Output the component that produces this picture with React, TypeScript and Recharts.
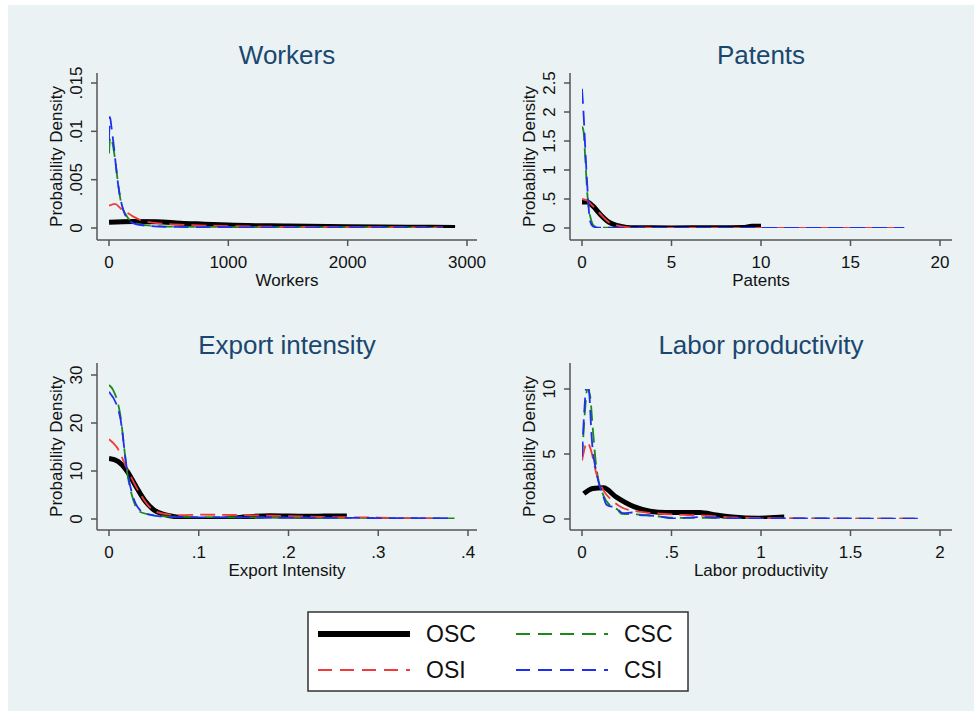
import React from "react"
import { LineChart, Line, XAxis, YAxis } from "recharts"

// Workers panel
const workersOscX = [0, 200, 400, 600, 800, 1000, 1500, 2000, 2500, 2900]
const workersOscY = [0.0006, 0.00068, 0.00065, 0.0005, 0.0004, 0.0003, 0.0002, 0.00012, 0.00008, 0.00005]
const workersCscX = [0, 10, 25, 50, 75, 100, 150, 200, 300, 500, 1000, 1500, 2000, 2500, 2800]
const workersCscY = [0.0077, 0.0094, 0.009, 0.0072, 0.0047, 0.0027, 0.0012, 0.0006, 0.0003, 0.00015, 0.0001, 0.00008, 0.00008, 0.00005, 0.00003]
const workersOsiX = [0, 50, 100, 150, 200, 250, 300, 400, 500, 700, 1000, 1500, 2000, 2500, 2800]
const workersOsiY = [0.0023, 0.0025, 0.002, 0.0016, 0.0012, 0.0009, 0.0007, 0.0005, 0.0004, 0.0003, 0.0002, 0.00012, 0.0001, 0.00007, 0.00005]
const workersCsiX = [0, 8, 20, 40, 60, 80, 100, 130, 160, 200, 300, 500, 1000, 1500, 2000, 2500, 2800]
const workersCsiY = [0.009, 0.0115, 0.0105, 0.0085, 0.0062, 0.0042, 0.0028, 0.0015, 0.0009, 0.0005, 0.00025, 0.00012, 0.00008, 0.00006, 0.00007, 0.00004, 0.00003]

// Patents panel
const patentsOscX = [0, 0.3, 0.6, 1, 1.5, 2, 2.5, 3, 5, 7, 9, 9.5, 10]
const patentsOscY = [0.45, 0.45, 0.38, 0.24, 0.1, 0.04, 0.01, 0.003, 0.002, 0.004, 0.01, 0.03, 0.03]
const patentsCscX = [0, 0.08, 0.2, 0.3, 0.5, 0.7, 1, 2, 5, 10, 15, 18]
const patentsCscY = [1.75, 1.68, 1.1, 0.58, 0.15, 0.03, 0.01, 0.004, 0.002, 0.002, 0.001, 0.001]
const patentsOsiX = [0, 0.3, 0.6, 1, 1.5, 2, 2.5, 3, 5, 10, 15, 18]
const patentsOsiY = [0.5, 0.47, 0.38, 0.25, 0.1, 0.04, 0.015, 0.006, 0.003, 0.003, 0.002, 0.001]
const patentsCsiX = [0, 0.1, 0.17, 0.3, 0.45, 0.6, 0.8, 1.2, 2, 5, 10, 15, 18]
const patentsCsiY = [2.4, 1.9, 1.45, 0.7, 0.12, 0.03, 0.01, 0.005, 0.003, 0.002, 0.002, 0.001, 0.001]

// Export intensity panel
const exportOscX = [0, 0.01, 0.02, 0.03, 0.04, 0.05, 0.06, 0.07, 0.085, 0.1, 0.115, 0.13, 0.15, 0.18, 0.2, 0.22, 0.24, 0.265]
const exportOscY = [12.6, 12.0, 10.0, 6.8, 3.8, 1.9, 1.0, 0.6, 0.2, -0.15, -0.2, 0, 0.4, 0.7, 0.6, 0.55, 0.6, 0.65]
const exportCscX = [0, 0.0045, 0.0123, 0.0204, 0.027, 0.0345, 0.049, 0.07, 0.1, 0.15, 0.2, 0.25, 0.3, 0.35, 0.385]
const exportCscY = [27.9, 26.9, 22, 9.5, 4, 1.5, 0.8, 0.5, 0.4, 0.35, 0.3, 0.25, 0.2, 0.15, 0.1]
const exportOsiX = [0, 0.0086, 0.02, 0.0345, 0.049, 0.064, 0.08, 0.1, 0.15, 0.2, 0.25, 0.3, 0.345, 0.36]
const exportOsiY = [16.6, 15, 10.5, 5.3, 1.9, 1.0, 0.8, 0.9, 0.8, 0.6, 0.4, 0.3, 0.1, 0.1]
const exportCsiX = [0, 0.0123, 0.02, 0.0315, 0.0427, 0.06, 0.1, 0.2, 0.3, 0.385]
const exportCsiY = [26.5, 21.3, 10.4, 2.6, 1.0, 0.5, 0.35, 0.3, 0.2, 0.15]

// Labor productivity panel
const laborOscX = [0.01, 0.06, 0.12, 0.19, 0.29, 0.38, 0.47, 0.66, 0.75, 0.84, 0.98, 1.05, 1.13]
const laborOscY = [1.95, 2.35, 2.4, 1.7, 0.95, 0.6, 0.5, 0.5, 0.3, 0.15, 0.05, 0.1, 0.15]
const laborCscX = [0, 0.015, 0.03, 0.045, 0.06, 0.08, 0.12, 0.16, 0.2, 0.22, 0.3, 0.4, 0.5, 0.7, 1, 1.3, 1.6, 1.88]
const laborCscY = [4.6, 8, 10, 9.5, 7, 4, 1.8, 1.0, 0.7, 0.4, 0.35, 0.25, 0.1, 0.08, 0.05, 0.04, 0.03, 0.02]
const laborOsiX = [0, 0.03, 0.05, 0.08, 0.12, 0.17, 0.22, 0.3, 0.4, 0.5, 0.6, 0.7, 0.85, 1, 1.2, 1.5, 1.88]
const laborOsiY = [4.5, 5.9, 5.3, 3.5, 2.2, 1.4, 0.9, 0.6, 0.45, 0.35, 0.3, 0.25, 0.12, 0.08, 0.04, 0.03, 0.02]
const laborCsiX = [0, 0.017, 0.03, 0.04, 0.054, 0.082, 0.12, 0.137, 0.19, 0.23, 0.285, 0.32, 0.4, 0.51, 0.66, 0.84, 1, 1.3, 1.6, 1.88]
const laborCsiY = [4.8, 9.2, 10.8, 9.8, 6.3, 3.5, 1.7, 1.1, 0.85, 0.45, 0.5, 0.3, 0.25, 0.05, 0.15, 0.05, 0.04, 0.05, 0.03, 0.02]

// ticks
const workersXTicks = [0, 1000, 2000, 3000]
const workersYTicks = [0, 0.005, 0.01, 0.015]
const patentsXTicks = [0, 5, 10, 15, 20]
const patentsYTicks = [0, 0.5, 1, 1.5, 2, 2.5]
const exportXTicks = [0, 0.1, 0.2, 0.3, 0.4]
const exportYTicks = [0, 10, 20, 30]
const laborXTicks = [0, 0.5, 1, 1.5, 2]
const laborYTicks = [0, 5, 10]

const FONT = '"Liberation Sans", Arial, sans-serif'
const AXIS = "#555"
const DASH = "15 7"

const zip = (xs: number[], ys: number[]) => xs.map((x, i) => ({ x, y: ys[i] }))
const fmt = (v: number) => String(v).replace(/^0\./, ".")

type Panel = {
  title: string
  xLabel: string
  rect: { x: number; y: number; w: number; h: number }
  xTicks: number[]
  yTicks: number[]
  xPad: { left: number; right: number }
  yPad: { top: number; bottom: number }
  osc: { x: number; y: number }[]
  csc: { x: number; y: number }[]
  osi: { x: number; y: number }[]
  csi: { x: number; y: number }[]
}

const panels: Panel[] = [
  {
    title: "Workers", xLabel: "Workers",
    rect: { x: 97, y: 73, w: 380, h: 167 },
    xTicks: workersXTicks, yTicks: workersYTicks,
    xPad: { left: 12, right: 10 }, yPad: { top: 10, bottom: 12 },
    osc: zip(workersOscX, workersOscY), csc: zip(workersCscX, workersCscY),
    osi: zip(workersOsiX, workersOsiY), csi: zip(workersCsiX, workersCsiY),
  },
  {
    title: "Patents", xLabel: "Patents",
    rect: { x: 570, y: 73, w: 382, h: 167 },
    xTicks: patentsXTicks, yTicks: patentsYTicks,
    xPad: { left: 12, right: 12 }, yPad: { top: 10, bottom: 12 },
    osc: zip(patentsOscX, patentsOscY), csc: zip(patentsCscX, patentsCscY),
    osi: zip(patentsOsiX, patentsOsiY), csi: zip(patentsCsiX, patentsCsiY),
  },
  {
    title: "Export intensity", xLabel: "Export Intensity",
    rect: { x: 97, y: 363, w: 380, h: 167 },
    xTicks: exportXTicks, yTicks: exportYTicks,
    xPad: { left: 12, right: 9 }, yPad: { top: 12, bottom: 11 },
    osc: zip(exportOscX, exportOscY), csc: zip(exportCscX, exportCscY),
    osi: zip(exportOsiX, exportOsiY), csi: zip(exportCsiX, exportCsiY),
  },
  {
    title: "Labor productivity", xLabel: "Labor productivity",
    rect: { x: 570, y: 363, w: 382, h: 167 },
    xTicks: laborXTicks, yTicks: laborYTicks,
    xPad: { left: 12, right: 12 }, yPad: { top: 26, bottom: 11 },
    osc: zip(laborOscX, laborOscY), csc: zip(laborCscX, laborCscY),
    osi: zip(laborOsiX, laborOsiY), csi: zip(laborCsiX, laborCsiY),
  },
]

const LEFT = 60
const TOP = 20
const RIGHT = 20

function YTick(props: any) {
  const { y, payload } = props
  const tx = LEFT - 15
  return (
    <text x={tx} y={y} transform={`rotate(-90 ${tx} ${y})`} textAnchor="middle"
      fontSize={17} fill="#111" fontFamily={FONT}>
      {fmt(payload.value)}
    </text>
  )
}

function DensityPanel({ p }: { p: Panel }) {
  const { rect } = p
  const xs = p.xTicks
  const ys = p.yTicks
  return (
    <div style={{ position: "absolute", left: rect.x - LEFT, top: rect.y - TOP }}>
      <LineChart width={rect.w + LEFT + RIGHT} height={rect.h + TOP + 60}
        margin={{ top: TOP, right: RIGHT, left: 0, bottom: 0 }}>
        <XAxis type="number" dataKey="x" domain={[xs[0], xs[xs.length - 1]]} ticks={xs}
          interval={0} allowDataOverflow padding={p.xPad} height={60}
          stroke={AXIS} strokeWidth={1.5} tickSize={6} tickMargin={10}
          tickFormatter={fmt} tick={{ fill: "#111", fontSize: 17, fontFamily: FONT }} />
        <YAxis type="number" dataKey="y" domain={[ys[0], ys[ys.length - 1]]} ticks={ys}
          interval={0} allowDataOverflow padding={p.yPad} width={LEFT}
          stroke={AXIS} strokeWidth={1.5} tickSize={6} tick={<YTick />} />
        <Line data={p.osc} dataKey="y" type="monotone" stroke="#000" strokeWidth={5}
          dot={false} isAnimationActive={false} />
        <Line data={p.csc} dataKey="y" type="monotone" stroke="#1a8a1a" strokeWidth={1.8}
          strokeDasharray={DASH} dot={false} isAnimationActive={false} />
        <Line data={p.osi} dataKey="y" type="monotone" stroke="#f23a3a" strokeWidth={1.8}
          strokeDasharray={DASH} dot={false} isAnimationActive={false} />
        <Line data={p.csi} dataKey="y" type="monotone" stroke="#1f2ff0" strokeWidth={1.8}
          strokeDasharray={DASH} dot={false} isAnimationActive={false} />
      </LineChart>
    </div>
  )
}

const legendItems = [
  { name: "OSC", color: "#000", width: 6, dash: undefined, col: 0, row: 0 },
  { name: "CSC", color: "#1a8a1a", width: 2, dash: "14 8", col: 1, row: 0 },
  { name: "OSI", color: "#f23a3a", width: 2, dash: "14 8", col: 0, row: 1 },
  { name: "CSI", color: "#1f2ff0", width: 2, dash: "14 8", col: 1, row: 1 },
]

export default function App() {
  return (
    <div style={{ position: "absolute", left: 0, top: 0, width: 974, height: 711, background: "#fff", fontFamily: FONT }}>
      <div style={{ position: "absolute", left: 8, top: 5, width: 966, height: 706, background: "#eaf2f3" }} />
      {panels.map((p) => (
        <DensityPanel key={p.title} p={p} />
      ))}
      <svg width={974} height={711} style={{ position: "absolute", left: 0, top: 0, pointerEvents: "none" }}>
        {panels.map((p) => {
          const cx = p.rect.x + p.rect.w / 2
          const cy = p.rect.y + p.rect.h / 2
          const yx = p.rect.x - 35
          return (
            <g key={p.title} fontFamily={FONT}>
              <text x={cx} y={p.rect.y - 9} textAnchor="middle" fontSize={26} fill="#1a476f">{p.title}</text>
              <text x={cx} y={p.rect.y + p.rect.h + 46} textAnchor="middle" fontSize={17} fill="#111">{p.xLabel}</text>
              <text x={yx} y={cy} transform={`rotate(-90 ${yx} ${cy})`} textAnchor="middle" fontSize={17} fill="#111">Probability Density</text>
            </g>
          )
        })}
        <g transform="translate(308 612)" fontFamily={FONT}>
          <rect x={0} y={0} width={380} height={79} fill="#fff" stroke="#333" strokeWidth={1.5} />
          {legendItems.map((it) => {
            const lx = 10 + it.col * 198
            const ly = 22 + it.row * 36
            return (
              <g key={it.name}>
                <line x1={lx} x2={lx + 92} y1={ly} y2={ly} stroke={it.color} strokeWidth={it.width} strokeDasharray={it.dash} />
                <text x={lx + 108} y={ly + 8} fontSize={23} fill="#111">{it.name}</text>
              </g>
            )
          })}
        </g>
      </svg>
    </div>
  )
}
